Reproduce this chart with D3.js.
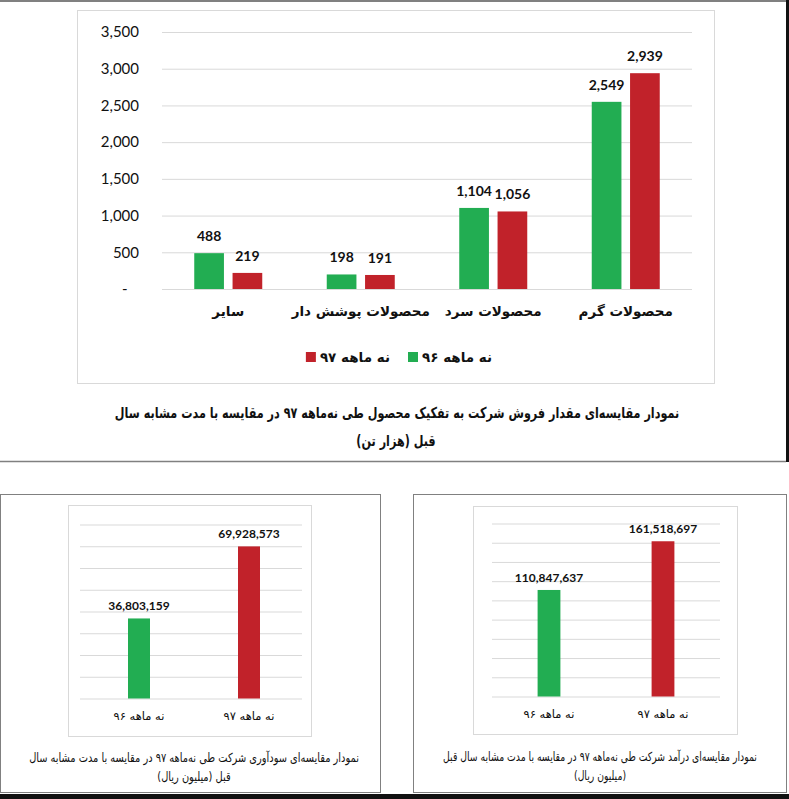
<!DOCTYPE html>
<html>
<head>
<meta charset="utf-8">
<script src="https://cdnjs.cloudflare.com/ajax/libs/d3/7.8.5/d3.min.js"></script>
<style>
  body { margin: 0; background: #fff; }
  svg { display: block; }
  .fa { font-family: "DejaVu Sans", sans-serif; direction: rtl; fill: #111; }
  .num { font-family: Lato, sans-serif; fill: #111; }
</style>
</head>
<body>
<svg id="chart" width="789" height="799"></svg>
<script>
// --- sales by product, thousand tonnes ---
const categories = ["سایر", "محصولات پوشش دار", "محصولات سرد", "محصولات گرم"];
const series = ["نه ماهه ۹۶", "نه ماهه ۹۷"];
const sales96 = [488, 198, 1104, 2549];
const sales97 = [219, 191, 1056, 2939];
const salesTicks = [0, 500, 1000, 1500, 2000, 2500, 3000, 3500];

// --- profit and revenue, million rial ---
const miniCategories = ["نه ماهه ۹۶", "نه ماهه ۹۷"];
const profitValues = [36803159, 69928573];
const profitTicks = [0, 10e6, 20e6, 30e6, 40e6, 50e6, 60e6, 70e6, 80e6];
const revenueValues = [110847637, 161518697];
const revenueTicks = [0, 20e6, 40e6, 60e6, 80e6, 100e6, 120e6, 140e6, 160e6, 180e6];

const captionSales = ["نمودار مقایسه\u200cای مقدار فروش شرکت به تفکیک محصول طی نه\u200cماهه ۹۷ در مقایسه با مدت مشابه سال", "قبل (هزار تن)"];
const captionProfit = ["نمودار مقایسه\u200cای سودآوری شرکت طی نه\u200cماهه ۹۷ در مقایسه با مدت مشابه سال", "قبل (میلیون ریال)"];
const captionRevenue = ["نمودار مقایسه\u200cای درآمد شرکت طی نه\u200cماهه ۹۷ در مقایسه با مدت مشابه سال قبل", "(میلیون ریال)"];

const colors = ["#22ad52", "#c1222a"];
const gridColor = "#d9d9d9";
const fmt = d3.format(",");

const svg = d3.select("#chart");

// caption line: keep the glyph height, squeeze it sideways to the width in the picture
// (DejaVu is much wider than the Nazanin-like font of the original)
function captionLine(x, y, str, size, bold, w) {
  const g = svg.append("g").attr("transform", `translate(${x},${y})`);
  const t = g.append("text").attr("class", "fa")
    .attr("text-anchor", "middle").attr("font-size", size)
    .attr("font-weight", bold ? "bold" : "normal")
    .text(str);
  const len = t.node().getComputedTextLength();
  const sx = w ? Math.min(1, w / len) : 1;
  t.attr("transform", `scale(${sx.toFixed(3)},1)`);
  return sx;
}

// page frame (the screenshot's borders)
svg.append("line").attr("x1", 0).attr("x2", 789).attr("y1", 1).attr("y2", 1)
  .attr("stroke", "#808080").attr("stroke-width", 2);
svg.append("rect").attr("x", 786).attr("y", 0).attr("width", 3).attr("height", 462).attr("fill", "#111");
svg.append("line").attr("x1", 0).attr("x2", 786).attr("y1", 461.5).attr("y2", 461.5)
  .attr("stroke", "#808080").attr("stroke-width", 1.5);
svg.append("rect").attr("x", 0).attr("y", 794).attr("width", 789).attr("height", 5).attr("fill", "#111");
svg.append("rect").attr("x", 0.5).attr("y", 494.5).attr("width", 380).attr("height", 298)
  .attr("fill", "none").attr("stroke", "#808080");
svg.append("rect").attr("x", 413.5).attr("y", 494.5).attr("width", 373).attr("height", 298)
  .attr("fill", "none").attr("stroke", "#808080");

// ================= top chart =================
svg.append("rect").attr("x", 77.5).attr("y", 10.5).attr("width", 637).attr("height", 373)
  .attr("fill", "#fff").attr("stroke", gridColor);

const plot = { left: 162, right: 692, top: 32, bottom: 289 };
const x0 = d3.scaleBand().domain(categories).range([plot.left, plot.right]);
const x1 = d3.scaleBand().domain(series)
  .range([x0.bandwidth() / 2 - 34, x0.bandwidth() / 2 + 34]).paddingInner(0.225);
const y = d3.scaleLinear().domain([0, 3500]).range([plot.bottom, plot.top]);

svg.append("g")
  .attr("transform", `translate(${plot.left},0)`)
  .call(d3.axisLeft(y).tickValues(salesTicks).tickSize(-(plot.right - plot.left)).tickFormat(""))
  .call(g => g.select(".domain").remove())
  .call(g => g.selectAll("line").attr("stroke", gridColor));

svg.append("g")
  .attr("transform", `translate(${plot.left},0)`)
  .call(d3.axisLeft(y).tickValues(salesTicks).tickSize(0).tickPadding(23)
    .tickFormat(d => d === 0 ? "-\u00A0\u00A0\u00A0" : fmt(d)))
  .call(g => g.select(".domain").remove())
  .call(g => g.selectAll("text").attr("class", "num").attr("font-size", 15).attr("fill", "#111"));

const rows = categories.map((c, i) => ({ cat: c, vals: [sales96[i], sales97[i]] }));

const grp = svg.append("g").selectAll("g")
  .data(rows)
  .join("g")
  .attr("transform", d => `translate(${x0(d.cat)},0)`);

grp.selectAll("rect")
  .data(d => d.vals.map((v, j) => ({ s: series[j], v, j })))
  .join("rect")
  .attr("x", d => x1(d.s))
  .attr("y", d => y(d.v))
  .attr("width", x1.bandwidth())
  .attr("height", d => y(0) - y(d.v))
  .attr("fill", d => colors[d.j]);

grp.selectAll("text")
  .data(d => d.vals.map((v, j) => ({ s: series[j], v, j })))
  .join("text")
  .attr("class", "num")
  .attr("x", d => x1(d.s) + x1.bandwidth() / 2)
  .attr("y", d => y(d.v) - 12)
  .attr("text-anchor", "middle")
  .attr("font-size", 14)
  .attr("font-weight", "bold")
  .text(d => fmt(d.v));

svg.append("g")
  .attr("transform", `translate(0,${plot.bottom})`)
  .call(d3.axisBottom(x0).tickSize(0).tickPadding(17))
  .call(g => g.select(".domain").remove())
  .call(g => g.selectAll("text").attr("class", "fa").attr("font-size", 13.5)
    .attr("font-weight", "bold").attr("fill", "#111"));

// legend: red item on the left, green on the right
const legend = svg.append("g");
const items = legend.selectAll("g")
  .data(series.map((s, j) => ({ s, j })).reverse())
  .join("g");
items.append("rect").attr("width", 10).attr("height", 10).attr("y", -5)
  .attr("fill", d => colors[d.j]);
items.append("text").attr("class", "fa").attr("x", 14).attr("dy", "0.35em")
  .attr("font-size", 13.5).attr("font-weight", "bold")
  .attr("text-anchor", "end")
  .text(d => d.s);
let lx = 0;
items.each(function () {
  const w = d3.select(this).node().getBBox().width;
  d3.select(this).attr("transform", `translate(${lx},0)`);
  lx += w + 18;
});
legend.attr("transform", `translate(${399 - (lx - 18) / 2},357)`);

// caption
const capSx = captionLine(397, 418, captionSales[0], 15, true, 565);
svg.append("g").attr("transform", `translate(396,446) scale(${capSx.toFixed(3)},1)`)
  .append("text").attr("class", "fa").attr("text-anchor", "middle")
  .attr("font-size", 15).attr("font-weight", "bold").text(captionSales[1]);

// ================= two small charts =================
function miniChart(o) {
  svg.append("rect").attr("x", o.box[0] + 0.5).attr("y", o.box[1] + 0.5)
    .attr("width", o.box[2]).attr("height", o.box[3])
    .attr("fill", "#fff").attr("stroke", gridColor);

  const ys = d3.scaleLinear().domain([0, d3.max(o.ticks)]).range(o.yRange);
  const xs = d3.scaleBand().domain(miniCategories).range(o.barRange);
  const bw = xs.bandwidth() * 0.2;

  svg.append("g")
    .attr("transform", `translate(${o.gridRange[0]},0)`)
    .call(d3.axisLeft(ys).tickValues(o.ticks).tickSize(-(o.gridRange[1] - o.gridRange[0])).tickFormat(""))
    .call(g => g.select(".domain").remove())
    .call(g => g.selectAll("line").attr("stroke", gridColor));

  const data = o.values.map((v, j) => ({ c: miniCategories[j], v, j }));
  svg.append("g").selectAll("rect")
    .data(data)
    .join("rect")
    .attr("x", d => xs(d.c) + xs.bandwidth() / 2 - bw / 2)
    .attr("y", d => ys(d.v))
    .attr("width", bw)
    .attr("height", d => ys(0) - ys(d.v))
    .attr("fill", d => colors[d.j]);

  svg.append("g").selectAll("text")
    .data(data)
    .join("text")
    .attr("class", "num")
    .attr("x", d => xs(d.c) + xs.bandwidth() / 2)
    .attr("y", d => ys(d.v) - 8)
    .attr("text-anchor", "middle")
    .attr("font-size", 12)
    .attr("font-weight", "bold")
    .text(d => fmt(d.v));

  svg.append("g")
    .attr("transform", `translate(0,${o.yRange[0]})`)
    .call(d3.axisBottom(xs).tickSize(0).tickPadding(13))
    .call(g => g.select(".domain").remove())
    .call(g => g.selectAll("text").attr("class", "fa").attr("font-size", 11.5).attr("fill", "#111"));

  const sx = captionLine(o.capX, o.capY, o.caption[0], 12.5, false, o.capW);
  svg.append("g").attr("transform", `translate(${o.capX},${o.capY + 19}) scale(${sx.toFixed(3)},1)`)
    .append("text").attr("class", "fa").attr("text-anchor", "middle")
    .attr("font-size", 12.5).text(o.caption[1]);
}

miniChart({
  box: [68, 505, 243, 231],
  gridRange: [80, 302],
  barRange: [84, 304],
  yRange: [698.5, 524.5],
  ticks: profitTicks,
  values: profitValues,
  caption: captionProfit,
  capX: 194, capY: 762, capW: 330
});

miniChart({
  box: [473, 506, 264, 228],
  gridRange: [492, 720],
  barRange: [492, 720],
  yRange: [696.5, 523.5],
  ticks: revenueTicks,
  values: revenueValues,
  caption: captionRevenue,
  capX: 600, capY: 761, capW: 314
});
</script>
</body>
</html>
